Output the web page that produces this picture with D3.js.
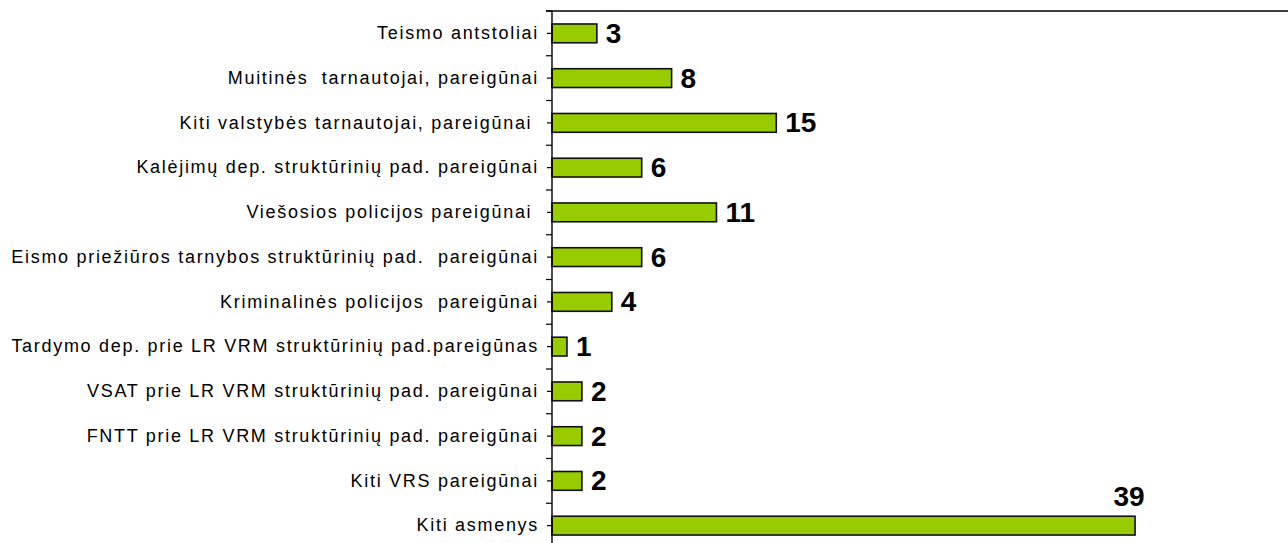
<!DOCTYPE html>
<html>
<head>
<meta charset="utf-8">
<script src="https://cdn.jsdelivr.net/npm/d3@7"></script>
<style>
  html, body { margin: 0; padding: 0; background: #fff; }
  svg { display: block; }
  text { white-space: pre; }
</style>
</head>
<body>
<svg id="chart" width="1288" height="543"></svg>
<script>
const categories = [
  "Teismo antstoliai",
  "Muitinės  tarnautojai, pareigūnai",
  "Kiti valstybės tarnautojai, pareigūnai ",
  "Kalėjimų dep. struktūrinių pad. pareigūnai",
  "Viešosios policijos pareigūnai ",
  "Eismo priežiūros tarnybos struktūrinių pad.  pareigūnai",
  "Kriminalinės policijos  pareigūnai",
  "Tardymo dep. prie LR VRM struktūrinių pad.pareigūnas",
  "VSAT prie LR VRM struktūrinių pad. pareigūnai",
  "FNTT prie LR VRM struktūrinių pad. pareigūnai",
  "Kiti VRS pareigūnai",
  "Kiti asmenys"
];
const values = [3, 8, 15, 6, 11, 6, 4, 1, 2, 2, 2, 39];

const svg = d3.select("#chart");
const W = 1288, H = 543;
const plotLeft = 552, plotTop = 11, plotBottom = 548;

const x = d3.scaleLinear().domain([0, 40]).range([plotLeft, 1150]);
const y = d3.scaleBand().domain(categories).range([plotTop, plotBottom])
  .paddingInner(0.58).paddingOuter(0.29);

// top border line
svg.append("line")
  .attr("x1", plotLeft - 6).attr("x2", W)
  .attr("y1", plotTop).attr("y2", plotTop)
  .attr("stroke", "#000").attr("stroke-width", 1.3);

// bars
svg.selectAll("rect.bar").data(values).enter().append("rect")
  .attr("class", "bar")
  .attr("x", x(0))
  .attr("y", (d, i) => y(categories[i]))
  .attr("width", d => x(d) - x(0))
  .attr("height", y.bandwidth())
  .attr("fill", "#99cc00")
  .attr("stroke", "#111")
  .attr("stroke-width", 1.6);

// axis with labels
const axis = d3.axisLeft(y).tickSize(5).tickPadding(8);
const g = svg.append("g").attr("transform", `translate(${plotLeft},0)`).call(axis);
g.select(".domain").remove();
g.selectAll(".tick line").attr("stroke", "#000").attr("stroke-width", 1.2);
g.selectAll(".tick text")
  .attr("font-family", "Liberation Sans, Arial, sans-serif")
  .attr("font-size", 18)
  .attr("letter-spacing", 1.7)
  .attr("fill", "#000");

// boundary ticks
const step = y.step();
const bounds = d3.range(categories.length + 1).map(k => plotTop + k * step);
svg.selectAll("line.btick").data(bounds).enter().append("line")
  .attr("class", "btick")
  .attr("x1", plotLeft - 6).attr("x2", plotLeft)
  .attr("y1", d => d).attr("y2", d => d)
  .attr("stroke", "#000").attr("stroke-width", 1.2);

// axis line
svg.append("line")
  .attr("x1", plotLeft).attr("x2", plotLeft)
  .attr("y1", plotTop).attr("y2", H)
  .attr("stroke", "#000").attr("stroke-width", 1.4);

// value labels
svg.selectAll("text.val").data(values).enter().append("text")
  .attr("class", "val")
  .attr("font-family", "Liberation Sans, Arial, sans-serif")
  .attr("font-weight", "bold")
  .attr("font-size", 28)
  .attr("fill", "#000")
  .each(function(d, i) {
    const t = d3.select(this);
    const cy = y(categories[i]) + y.bandwidth() / 2;
    const xe = x(d);
    if (xe + 60 > W - 100) {
      t.attr("x", xe - 6).attr("y", y(categories[i]) - 10).attr("text-anchor", "middle");
    } else {
      t.attr("x", xe + 9).attr("y", cy + 9.5).attr("text-anchor", "start");
    }
  })
  .text(d => d);
</script>
</body>
</html>
